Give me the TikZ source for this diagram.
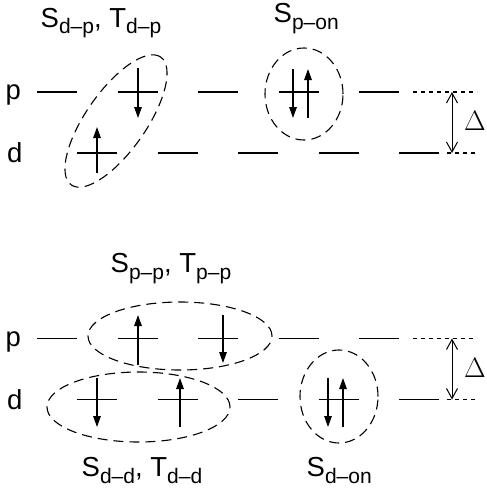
\documentclass[tikz,border=0pt]{standalone}
\usepackage{fix-cm}
\usepackage{fontspec}
\setmainfont{Liberation Sans}
\usetikzlibrary{arrows.meta, positioning}

% state label with lowered subscript
\newcommand{\stlbl}[2]{#1\raisebox{-6.5pt}{\fontsize{21}{21}\selectfont #2}}

\tikzset{
  level/.style={line width=1.5pt},
  dotlevel/.style={line width=1.1pt, dash pattern=on 4pt off 4pt},
  spin/.style={line width=1.4pt, -{Triangle[width=7.5pt, length=11pt]}},
  pair/.style={line width=1.1pt, dash pattern=on 10pt off 6pt},
  gap/.style={line width=1pt, {Straight Barb[width=11pt, length=10pt]}-{Straight Barb[width=11pt, length=10pt]}},
  txt/.style={anchor=base west, inner sep=0pt, font=\fontsize{27.5}{30}\selectfont},
  deltalbl/.style={font=\fontsize{28}{28}\selectfont, inner sep=0pt},
}

\begin{document}
\begin{tikzpicture}[x=1pt, y=-1pt]
  \useasboundingbox (0,0) rectangle (487,496);

  % levels p and d (top)
  \node[txt] (p_top) at (5.5,99.5) {p};
  \node[txt] (d_top) at (7,162.5) {d};
  \foreach \x in {37,117.5,198,278.5,359} {
    \draw[level] (\x,92) -- ++(40,0);
  }
  \foreach \x in {77,157.5,238,318.5,399} {
    \draw[level] (\x,153) -- ++(40,0);
  }
  \draw[dotlevel] (413,92) -- (477,92);
  \draw[dotlevel] (447,153) -- (477,153);

  % gap Delta
  \coordinate (gp_top) at (452,92);
  \coordinate (gd_top) at (452,153);
  \draw[gap] (gp_top) -- (gd_top);
  \node[deltalbl] (delta_top) at (475,121) {$\Delta$};

  % d-p pair
  \draw[spin] (138,68) -- (138,118);
  \draw[spin] (97,173) -- (97,127);
  \draw[pair, rotate around={55:(116,121)}] (116,121) ellipse [x radius=78pt, y radius=30pt];
  \node[txt] (dp_note) at (40.5,27) {\stlbl{S}{d\textendash p}, \stlbl{T}{d\textendash p}};

  % on-site p pair
  \draw[spin] (293,69) -- (293,118);
  \draw[spin] (308,118) -- (308,69);
  \draw[pair] (304,94) ellipse [x radius=39pt, y radius=46pt];
  \node[txt] (pon_note) at (273.5,22.5) {\stlbl{S}{p\textendash on}};

  % bottom diagram
  \begin{scope}[yshift=-246.5pt]
    \node[txt] (p_bot) at (5.5,99.5) {p};
    \node[txt] (d_bot) at (7,162.5) {d};
    \foreach \x in {37,117.5,198,278.5,359} {
      \draw[level] (\x,92) -- ++(40,0);
    }
    \foreach \x in {77,157.5,238,318.5,399} {
      \draw[level] (\x,153) -- ++(40,0);
    }
    \draw[dotlevel] (413,92) -- (477,92);
    \draw[dotlevel] (447,153) -- (477,153);

    \coordinate (gp_bot) at (452,92);
    \coordinate (gd_bot) at (452,153);
    \draw[gap] (gp_bot) -- (gd_bot);
    \node[deltalbl] (delta_bot) at (475,121) {$\Delta$};

    % p-p pair
    \draw[spin] (138,118.5) -- (138,68.5);
    \draw[spin] (223,68.5) -- (223,116.5);
    \draw[pair] (180,89.5) ellipse [x radius=92pt, y radius=34pt];
    \node[txt] (pp_note) at (110.5,26) {\stlbl{S}{p\textendash p}, \stlbl{T}{p\textendash p}};

    % d-d pair
    \draw[spin] (97,131.5) -- (97,180.5);
    \draw[spin] (180,180.5) -- (180,131.5);
    \draw[pair] (138.5,160.5) ellipse [x radius=91.5pt, y radius=35pt];
    \node[txt] (dd_note) at (81.5,230) {\stlbl{S}{d\textendash d}, \stlbl{T}{d\textendash d}};

    % on-site d pair
    \draw[spin] (328,131.5) -- (328,180.5);
    \draw[spin] (343,180.5) -- (343,131.5);
    \draw[pair] (339,150) ellipse [x radius=39pt, y radius=46.5pt];
    \node[txt] (don_note) at (306.5,230) {\stlbl{S}{d\textendash on}};
  \end{scope}
\end{tikzpicture}
\end{document}
